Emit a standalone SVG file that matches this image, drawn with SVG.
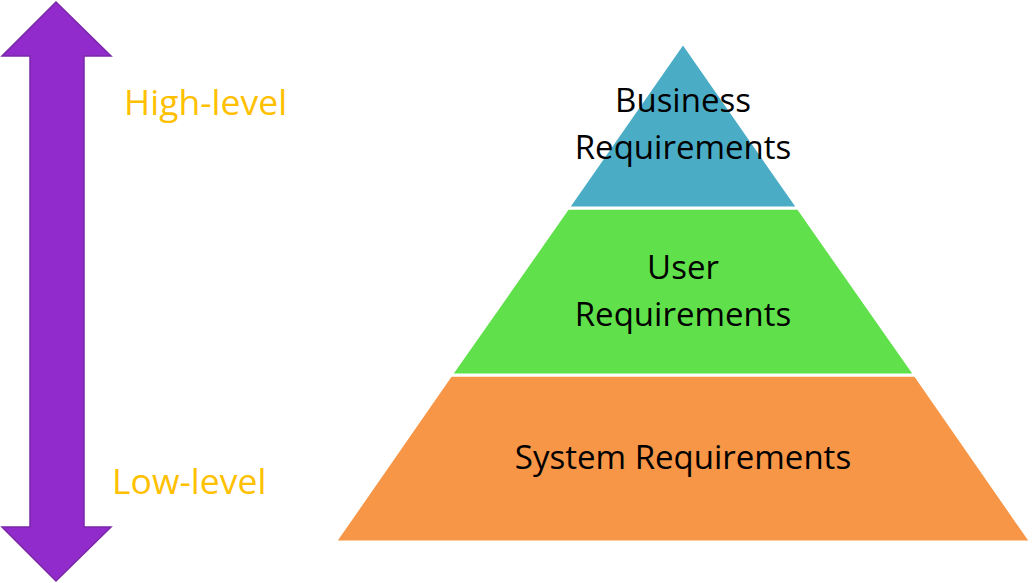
<svg xmlns="http://www.w3.org/2000/svg" width="1034" height="583" viewBox="0 0 1034 583">
<style>
.lbl{font-family:"Open Sans","Noto Sans",sans-serif;font-size:33px;fill:#000;text-anchor:middle}
.lvl{font-family:"Open Sans","Noto Sans",sans-serif;font-size:35.5px;fill:#FFC000}
.layer{stroke:#fff;stroke-width:3}
</style>
<rect width="1034" height="583" fill="#fff"/>
<g id="arrow">
<polygon points="56,2 111,56 84,56 84,527 111,527 56,581 2,527 30,527 30,56 2,56" fill="#912BCB" stroke="#7A27A8" stroke-width="1.5"/>
</g>
<g id="high-level"><text class="lvl" x="124" y="115">High-level</text></g>
<g id="low-level"><text class="lvl" x="112" y="494">Low-level</text></g>
<g id="system">
<polygon class="layer" points="451,375 915,375 1031,542 335,542" fill="#F79646"/>
<text class="lbl" x="683" y="469">System Requirements</text>
</g>
<g id="user">
<polygon class="layer" points="568,208 798,208 915,375 451,375" fill="#60E04A"/>
<text class="lbl" x="683" y="279">User</text>
<text class="lbl" x="683" y="326">Requirements</text>
</g>
<g id="business">
<polygon class="layer" points="683,43 798,208 568,208" fill="#4BACC6"/>
<text class="lbl" x="683" y="112">Business</text>
<text class="lbl" x="683" y="159">Requirements</text>
</g>
</svg>
